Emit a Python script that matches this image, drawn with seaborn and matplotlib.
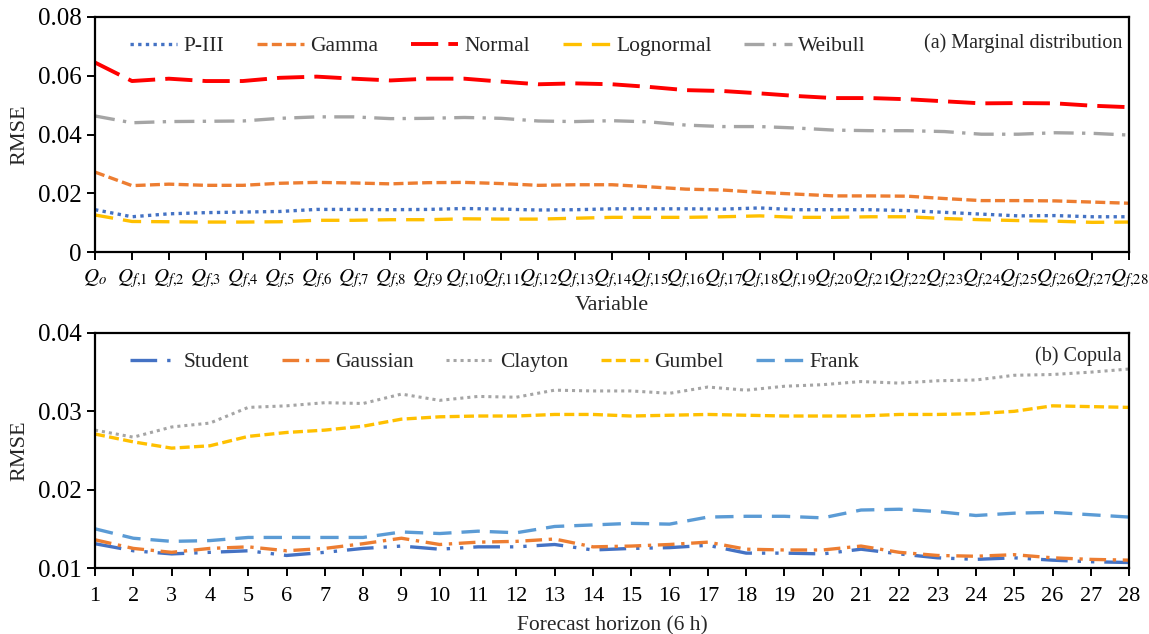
import numpy as np
import pandas as pd
import matplotlib
matplotlib.use('Agg')
import matplotlib.pyplot as plt
import seaborn as sns

# ---- data ----
var_labels = ['$Q_o$'] + ['$Q_{f{,}%d}$' % i for i in range(1, 29)]

p3 = [0.0144, 0.0120, 0.0130, 0.0134, 0.0136, 0.0138, 0.0145, 0.0145, 0.0144, 0.0145,
      0.0148, 0.0146, 0.0143, 0.0144, 0.0147, 0.0147, 0.0147, 0.0146, 0.0150, 0.0144,
      0.0144, 0.0144, 0.0141, 0.0135, 0.0129, 0.0123, 0.0124, 0.0120, 0.0120]
gamma = [0.0272, 0.0226, 0.0231, 0.0227, 0.0227, 0.0234, 0.0237, 0.0235, 0.0232, 0.0236,
         0.0237, 0.0233, 0.0227, 0.0229, 0.0229, 0.0222, 0.0214, 0.0211, 0.0203, 0.0197,
         0.0191, 0.0191, 0.0190, 0.0182, 0.0175, 0.0175, 0.0174, 0.0170, 0.0166]
normal = [0.0645, 0.0582, 0.0590, 0.0582, 0.0582, 0.0593, 0.0597, 0.0590, 0.0584, 0.0590,
          0.0590, 0.0580, 0.0571, 0.0574, 0.0571, 0.0562, 0.0551, 0.0548, 0.0540, 0.0531,
          0.0524, 0.0524, 0.0520, 0.0513, 0.0506, 0.0507, 0.0506, 0.0498, 0.0493]
lognormal = [0.0126, 0.0104, 0.0103, 0.0102, 0.0102, 0.0103, 0.0108, 0.0108, 0.0110, 0.0110,
             0.0113, 0.0112, 0.0112, 0.0115, 0.0118, 0.0118, 0.0118, 0.0120, 0.0123, 0.0118,
             0.0118, 0.0120, 0.0120, 0.0114, 0.0110, 0.0107, 0.0105, 0.0101, 0.0102]
weibull = [0.0463, 0.0440, 0.0444, 0.0445, 0.0446, 0.0455, 0.0460, 0.0460, 0.0454, 0.0455,
           0.0458, 0.0455, 0.0446, 0.0444, 0.0447, 0.0443, 0.0432, 0.0427, 0.0427, 0.0422,
           0.0415, 0.0413, 0.0413, 0.0410, 0.0401, 0.0401, 0.0406, 0.0404, 0.0398]

horizon = list(range(1, 29))
student = [0.0131, 0.0122, 0.0118, 0.0120, 0.0122, 0.0116, 0.0120, 0.0125, 0.0128, 0.0124,
           0.0127, 0.0127, 0.0130, 0.0123, 0.0125, 0.0126, 0.0129, 0.0119, 0.0119, 0.0118,
           0.0124, 0.0118, 0.0113, 0.0111, 0.0113, 0.0110, 0.0108, 0.0107]
gaussian = [0.0136, 0.0125, 0.0120, 0.0125, 0.0127, 0.0122, 0.0125, 0.0131, 0.0138, 0.0130,
            0.0133, 0.0134, 0.0137, 0.0127, 0.0128, 0.0130, 0.0133, 0.0124, 0.0123, 0.0123,
            0.0128, 0.0120, 0.0116, 0.0115, 0.0117, 0.0113, 0.0111, 0.0110]
clayton = [0.0276, 0.0267, 0.0280, 0.0285, 0.0305, 0.0307, 0.0311, 0.0310, 0.0322, 0.0314,
           0.0319, 0.0318, 0.0327, 0.0326, 0.0326, 0.0323, 0.0331, 0.0327, 0.0332, 0.0334,
           0.0338, 0.0336, 0.0339, 0.0340, 0.0346, 0.0347, 0.0350, 0.0354]
gumbel = [0.0271, 0.0261, 0.0253, 0.0256, 0.0268, 0.0273, 0.0276, 0.0281, 0.0290, 0.0293,
          0.0294, 0.0294, 0.0296, 0.0296, 0.0294, 0.0295, 0.0296, 0.0295, 0.0294, 0.0294,
          0.0294, 0.0296, 0.0296, 0.0297, 0.0300, 0.0307, 0.0306, 0.0305]
frank = [0.0150, 0.0138, 0.0134, 0.0135, 0.0139, 0.0139, 0.0139, 0.0139, 0.0146, 0.0144,
         0.0147, 0.0145, 0.0153, 0.0155, 0.0157, 0.0156, 0.0165, 0.0166, 0.0166, 0.0164,
         0.0174, 0.0175, 0.0172, 0.0167, 0.0170, 0.0171, 0.0168, 0.0165]

sns.set_theme(style='ticks')
plt.rcParams['font.family'] = ['Liberation Serif', 'DejaVu Serif']
plt.rcParams['mathtext.fontset'] = 'stix'

fig = plt.figure(figsize=(11.49, 6.34), dpi=100)
ax1 = fig.add_axes([0.0827, 0.6025, 0.9000, 0.3707])
ax2 = fig.add_axes([0.0827, 0.1041, 0.9000, 0.3707])

x_var = np.arange(len(var_labels))

# top panel: marginal distributions
top_series = [
    ('P-III', p3, '#4472C4', (0, (1, 1.3)), 2.4),
    ('Gamma', gamma, '#ED7D31', (0, (3, 1.3)), 2.4),
    ('Normal', normal, '#FF0000', (0, (7, 2.6)), 2.8),
    ('Lognormal', lognormal, '#FFC000', (0, (5.5, 3)), 2.4),
    ('Weibull', weibull, '#A5A5A5', (0, (6, 2.5, 1, 2.5)), 2.4),
]
for name, vals, col, ls, lw in top_series:
    sns.lineplot(x=x_var, y=vals, ax=ax1, color=col, linestyle=ls, linewidth=lw, label=name)

ax1.set_xlim(0, 28)
ax1.set_ylim(0, 0.08)
ax1.set_yticks([0, 0.02, 0.04, 0.06, 0.08])
ax1.set_yticklabels(['0', '0.02', '0.04', '0.06', '0.08'])
ax1.set_xticks(x_var)
ax1.set_xticklabels(var_labels, fontsize=15)
ax1.set_xlabel('Variable', fontsize=16, labelpad=4)
ax1.set_ylabel('RMSE', fontsize=16, labelpad=6)
ax1.text(0.993, 0.93, '(a) Marginal distribution', transform=ax1.transAxes,
         ha='right', va='top', fontsize=14.5)
ax1.legend(loc='upper left', bbox_to_anchor=(0.015, 1.0), ncol=5, frameon=False,
           fontsize=15.5, handlelength=2.2, handletextpad=0.3, columnspacing=1.5)

# bottom panel: copulas
bot_series = [
    ('Student', student, '#4472C4', (0, (8, 3, 1, 3, 1, 3)), 2.4),
    ('Gaussian', gaussian, '#ED7D31', (0, (5, 2, 1, 2)), 2.4),
    ('Clayton', clayton, '#A5A5A5', (0, (1, 1.3)), 2.2),
    ('Gumbel', gumbel, '#FFC000', (0, (3, 1.3)), 2.4),
    ('Frank', frank, '#5B9BD5', (0, (5.5, 3)), 2.4),
]
for name, vals, col, ls, lw in bot_series:
    sns.lineplot(x=horizon, y=vals, ax=ax2, color=col, linestyle=ls, linewidth=lw, label=name)

ax2.set_xlim(1, 28)
ax2.set_ylim(0.01, 0.04)
ax2.set_yticks([0.01, 0.02, 0.03, 0.04])
ax2.set_yticklabels(['0.01', '0.02', '0.03', '0.04'])
ax2.set_xticks(horizon)
ax2.set_xlabel('Forecast horizon (6 h)', fontsize=15.5, labelpad=7)
ax2.set_ylabel('RMSE', fontsize=16, labelpad=6)
ax2.text(0.993, 0.945, '(b) Copula', transform=ax2.transAxes,
         ha='right', va='top', fontsize=14.5)
ax2.legend(loc='upper left', bbox_to_anchor=(0.015, 1.0), ncol=5, frameon=False,
           fontsize=15.5, handlelength=2.2, handletextpad=0.3, columnspacing=1.5)

for ax in (ax1, ax2):
    for sp in ax.spines.values():
        sp.set_visible(True)
        sp.set_color('black')
        sp.set_linewidth(1.6)
    ax.tick_params(axis='both', direction='out', length=6, width=1.4, colors='black')
    ax.tick_params(axis='y', labelsize=18)
    ax.grid(False)
ax1.tick_params(axis='x', pad=5)
ax2.tick_params(axis='x', labelsize=16, pad=8)

fig.savefig('out.png', dpi=100)
